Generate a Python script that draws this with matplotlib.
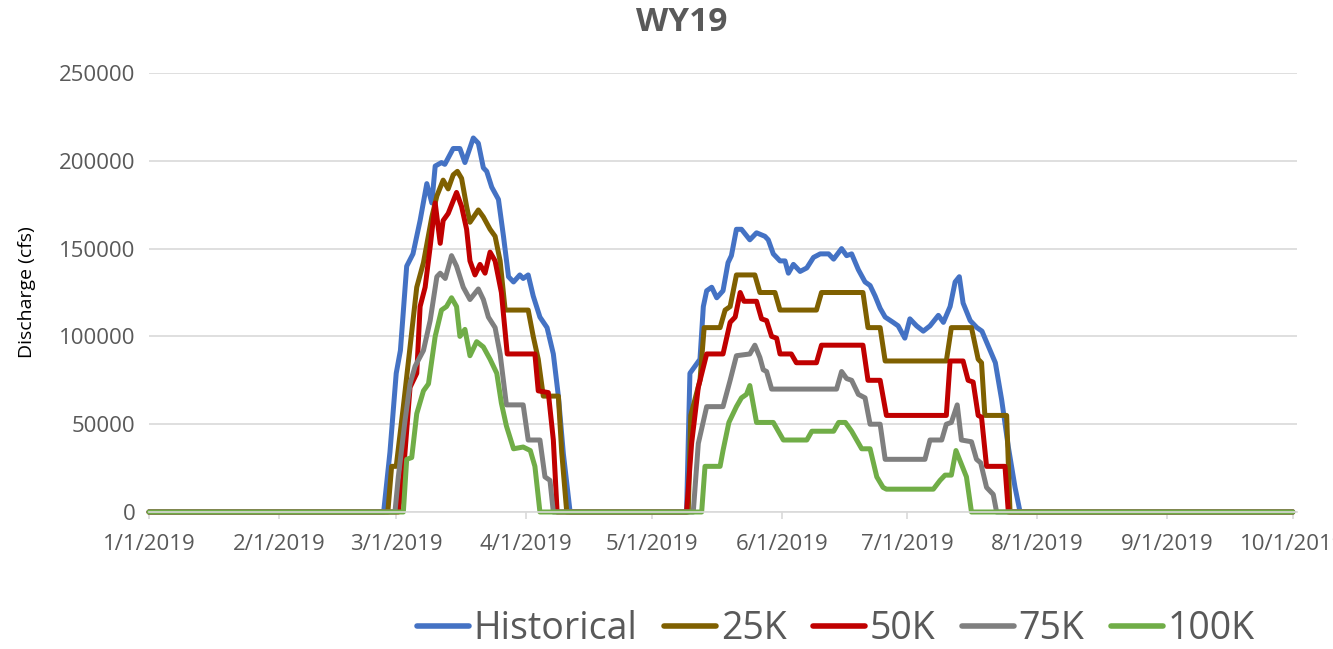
import numpy as np
import matplotlib
matplotlib.use("Agg")
import matplotlib.pyplot as plt
import matplotlib.dates as mdates
from matplotlib.ticker import FuncFormatter

plt.rcParams['font.family'] = ['Open Sans', 'DejaVu Sans']

# days after 1/1/2019, discharge in cfs
hist_days = [0, 56, 57.5, 59, 60, 61.5, 63, 64.7, 66.3, 67.5, 68.3, 69.8, 70.6, 72.6, 74.2, 75.4,
             77.4, 78.6, 79.8, 80.6, 81.8, 83.4, 84.6, 85.8, 87, 88.5, 89.3, 90.5, 91.7, 93.3, 95,
             96.5, 97.7, 98.9, 100.5,
             128.3, 129.1, 130.3, 131.5, 132.3, 133.1, 134.3, 135.5, 137, 138.2, 139, 140.2, 141.4,
             143.4, 145, 147, 147.8, 149, 150.6, 151.8, 152.6, 153.8, 155.4, 157, 158.6, 160.2,
             162.2, 163.4, 165.3, 166.5, 167.7, 169.3, 170.9, 172.1, 173.3, 174.5, 175.7, 177.6,
             178.8, 180.4, 181.6, 183.2, 184.8, 186.4, 188.4, 189.6, 191.2, 192.4, 193.4, 194.3,
             196, 197.6, 198.8, 200.4, 202, 203.5, 205.1, 206.7, 207.9, 273]
hist_cfs = [0, 0, 34000, 79000, 92000, 140000, 147000, 166000, 187000, 176000, 197000, 199000,
            198000, 207000, 207000, 199000, 213000, 210000, 196000, 194000, 185000, 178000, 157000,
            134000, 131000, 135000, 133000, 135000, 123000, 111000, 105000, 90000, 66000, 33000, 0,
            0, 79000, 83000, 87000, 117000, 126000, 128000, 122000, 126000, 142000, 146000, 161000,
            161000, 155000, 159000, 157000, 155000, 147000, 143000, 143000, 136000, 141000, 137000,
            139000, 145000, 147000, 147000, 144000, 150000, 146000, 147000, 138000, 131000, 129000,
            123000, 116000, 111000, 108000, 106000, 99000, 110000, 106000, 103000, 106000, 112000,
            108000, 117000, 131000, 134000, 119000, 109000, 105000, 103000, 94000, 85000, 64000,
            37000, 14000, 0, 0]

k25_days = [0, 57, 57.9, 59, 60.7, 62.3, 63.9, 65.5, 67.5, 68.7, 70.2, 71.4, 72.6, 73.6, 74.6,
            75.8, 76.6, 78.6, 79.8, 81.4, 82.6, 83.8, 85, 90.5, 91.7, 92.9, 94.1, 97.7, 98.5, 99.7,
            128.7, 129.3, 131.5, 132.5, 136.3, 137.5, 138.7, 140.2, 144.6, 145.8, 149.4, 150.6,
            159.3, 160.5, 170.4, 171.6, 174.5, 175.7, 190.3, 191.5, 196.3, 197.9, 198.7, 199.5,
            204.7, 205.5, 273]
k25_cfs = [0, 0, 26000, 26000, 60000, 94000, 128000, 142000, 168000, 180000, 189000, 184000,
           192000, 194000, 190000, 174000, 165000, 172000, 168000, 161000, 157000, 143000, 115000,
           115000, 100000, 87000, 66000, 66000, 34000, 0,
           0, 55000, 75000, 105000, 105000, 115000, 117000, 135000, 135000, 125000, 125000, 115000,
           115000, 125000, 125000, 105000, 105000, 86000, 86000, 105000, 105000, 87000, 85000,
           55000, 55000, 0, 0]

k50_days = [0, 59.5, 60.7, 62.3, 63.9, 64.7, 65.9, 67.1, 68.3, 69.5, 70.2, 71.4, 73.4, 74.6, 75.8,
            76.6, 77.8, 79, 80.2, 81.4, 82.6, 84.1, 85.5, 92.1, 92.9, 95.3, 96.5, 97.4,
            128.3, 129.5, 131.1, 133.1, 137, 138.7, 139.9, 141.1, 142, 145, 146.2, 147.4, 148.6,
            149.8, 150.6, 153.3, 154.5, 159.3, 160.5, 170.4, 171.6, 174.5, 176, 190.3, 191.2, 194.3,
            195.5, 196.7, 197.9, 198.7, 199.9, 204.3, 205.1, 273]
k50_cfs = [0, 0, 22000, 71000, 79000, 117000, 128000, 151000, 176000, 153000, 166000, 170000,
           182000, 174000, 161000, 143000, 135000, 141000, 136000, 148000, 143000, 125000, 90000,
           90000, 69000, 68000, 41000, 0,
           0, 39000, 71000, 90000, 90000, 108000, 111000, 125000, 120000, 120000, 110000, 109000,
           100000, 99000, 90000, 90000, 85000, 85000, 95000, 95000, 75000, 75000, 55000, 55000,
           86000, 86000, 75000, 74000, 55000, 54000, 26000, 26000, 0, 0]

k75_days = [0, 58.7, 59.5, 61.1, 62.3, 63.5, 65.5, 67.1, 68.7, 69.5, 70.7, 72.2, 73.4, 75, 76.6,
            78.6, 79.8, 81, 82.6, 83.8, 85.3, 89.3, 90.5, 93.3, 94.5, 95.7, 96.5,
            129.9, 131.1, 133.1, 137, 138.7, 140.2, 143.4, 144.6, 145.8, 146.6, 147.4, 148.6,
            164.1, 165.3, 166.5, 167.7, 169.3, 170.9, 172.1, 174.5, 175.7, 185.2, 186.4, 189.2,
            190.3, 191.5, 192.9, 193.9, 196.3, 197.5, 198.5, 199.9, 201.5, 202.3, 273]
k75_cfs = [0, 0, 20000, 52000, 73000, 83000, 92000, 109000, 134000, 136000, 133000, 146000,
           140000, 128000, 121000, 127000, 121000, 111000, 105000, 90000, 61000, 61000, 41000,
           41000, 20000, 18000, 0,
           0, 39000, 60000, 60000, 75000, 89000, 90000, 95000, 88000, 81000, 80000, 70000,
           70000, 80000, 76000, 75000, 67000, 65000, 50000, 50000, 30000, 30000, 41000, 41000,
           50000, 51000, 61000, 41000, 40000, 30000, 28000, 14000, 10000, 0, 0]

k100_days = [0, 60.7, 61.5, 62.7, 63.9, 65.5, 66.7, 68.3, 69.8, 71, 72.2, 73.4, 74.2, 75.4, 76.6,
             78.2, 79.8, 81.4, 83, 84.1, 85.3, 87, 89.3, 91, 92.1, 93.3,
             131.9, 132.7, 136.3, 137, 138.4, 140.2, 141.4, 142.6, 143.4, 145, 149, 151.4, 157,
             158.2, 163.4, 164.6, 166.2, 167.7, 170.1, 172.1, 173.7, 175.2, 176, 187.2, 188.8, 190,
             191.5, 192.6, 195.1, 196.3, 273]
k100_cfs = [0, 0, 30000, 31000, 56000, 69000, 73000, 100000, 115000, 117000, 122000, 117000,
            100000, 104000, 89000, 97000, 94000, 87000, 79000, 62000, 49000, 36000, 37000, 35000,
            26000, 0,
            0, 26000, 26000, 35000, 51000, 60000, 65000, 67000, 72000, 51000, 51000, 41000, 41000,
            46000, 46000, 51000, 51000, 46000, 36000, 36000, 20000, 14000, 13000, 13000, 18000,
            21000, 21000, 35000, 20000, 0, 0]

names = ["Historical", "25K", "50K", "75K", "100K"]
colors = ["#4472C4", "#7F6000", "#C00000", "#7F7F7F", "#70AD47"]
series = [(hist_days, hist_cfs), (k25_days, k25_cfs), (k50_days, k50_cfs),
          (k75_days, k75_cfs), (k100_days, k100_cfs)]

start = mdates.datestr2num("2019-01-01")
month_ticks = [mdates.datestr2num(f"2019-{m:02d}-01") for m in range(1, 11)]

fig = plt.figure(figsize=(13.33, 6.49), dpi=100)
ax = fig.add_axes([0.1118, 0.2111, 0.8612, 0.6764])

for (d, v), name, c in zip(series, names, colors):
    ax.plot(start + np.array(d), v, color=c, lw=3.6, label=name, clip_on=False,
            solid_joinstyle="round", solid_capstyle="round")

ax.set_xlim(start, start + 274)
ax.set_ylim(0, 250000)
ax.set_yticks(np.arange(0, 250001, 50000))
ax.set_xticks(month_ticks)
ax.xaxis.set_major_formatter(FuncFormatter(
    lambda x, p: "{0.month}/{0.day}/{0.year}".format(mdates.num2date(x))))

ax.grid(axis="y", color="#D9D9D9", lw=1.2)
ax.set_axisbelow(True)
for s in ["top", "right", "left"]:
    ax.spines[s].set_visible(False)
ax.spines["bottom"].set_color("#D9D9D9")
ax.spines["bottom"].set_linewidth(1.2)
ax.tick_params(axis="x", length=5, width=1.2, color="#D9D9D9", pad=11,
               labelsize=16, labelcolor="#595959")
ax.tick_params(axis="y", length=0, pad=10, labelsize=16, labelcolor="#595959")

ax.set_ylabel("Discharge (cfs)", fontsize=14, color="black", labelpad=16)
fig.text(0.5116, 0.966, "WY19", ha="center", va="center", fontsize=24,
         fontweight="bold", color="#595959")

leg = fig.legend(loc="center", bbox_to_anchor=(0.627, 0.031), ncol=5, frameon=False,
                 fontsize=27, handlelength=1.4, handletextpad=0.12, columnspacing=0.7,
                 borderaxespad=0)
for t in leg.get_texts():
    t.set_color("#595959")
for h in leg.legend_handles:
    h.set_linewidth(4)

fig.savefig("out.png", dpi=100)
